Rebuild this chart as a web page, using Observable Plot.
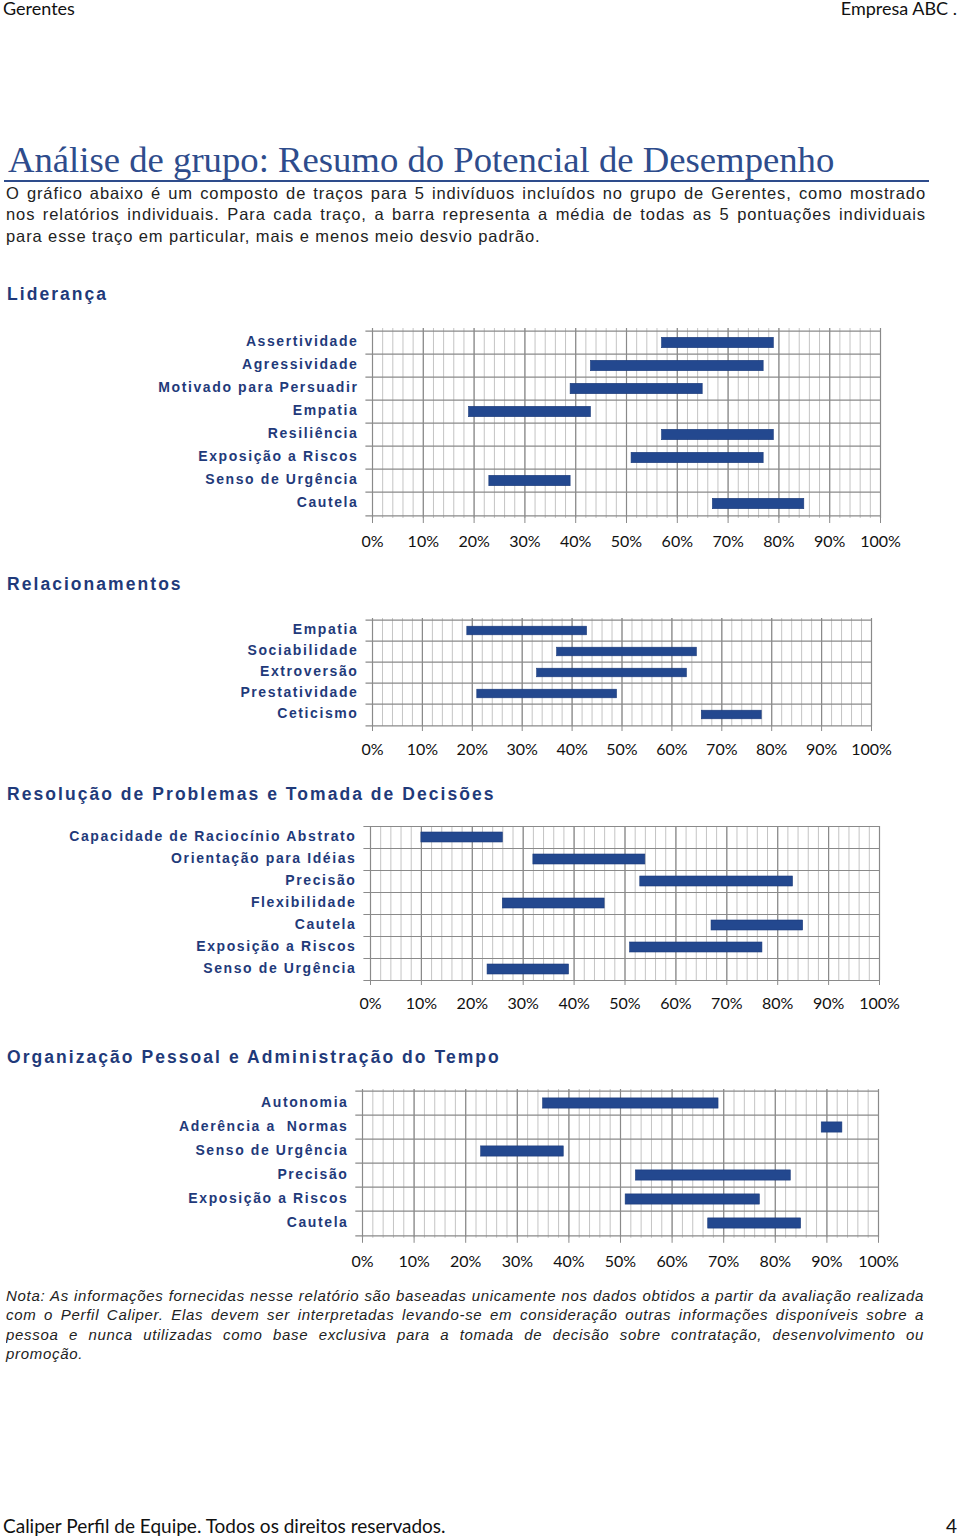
<!DOCTYPE html>
<html><head><meta charset="utf-8">
<script src="https://cdn.jsdelivr.net/npm/d3@7"></script>
<script src="https://cdn.jsdelivr.net/npm/@observablehq/plot@0.6"></script>
<style>
body{margin:0;width:960px;height:1536px;position:relative;background:#fff;overflow:hidden}
.abs{position:absolute;white-space:nowrap}
.hdr{font-family:Lato,sans-serif;font-size:18px;color:#111;line-height:20px}
.ftr{font-family:Lato,sans-serif;font-size:19px;color:#111;line-height:20px}
.title{font-family:"Liberation Serif",serif;font-size:36.7px;color:#2E4C8C;line-height:40px}
.para{font-family:"Liberation Sans Narrow","Liberation Sans",sans-serif;font-size:16.5px;color:#222;line-height:20px;letter-spacing:0.9px}
.just{white-space:normal;text-align:justify;text-align-last:justify;height:20px;overflow:hidden}
.sect{font-family:"Liberation Sans",Arial,sans-serif;font-weight:bold;font-size:17.5px;color:#1F3A7A;letter-spacing:2.05px;line-height:20px}
.note{font-family:"Liberation Sans Narrow","Liberation Sans",sans-serif;font-style:italic;font-size:15px;color:#222;line-height:20px;letter-spacing:0.7px}
.chart [aria-label="y-axis tick label"] text{letter-spacing:1.6px}
</style></head>
<body>
<script>
// ---------- data ----------
const ticks = [0,10,20,30,40,50,60,70,80,90,100];
const tickLabels = ["0%","10%","20%","30%","40%","50%","60%","70%","80%","90%","100%"];

const liderancaTraits = ["Assertividade","Agressividade","Motivado para Persuadir","Empatia","Resiliência","Exposição a Riscos","Senso de Urgência","Cautela"];
const liderancaLow  = [57,43,39,19,57,51,23,67];
const liderancaHigh = [79,77,65,43,79,77,39,85];

const relacTraits = ["Empatia","Sociabilidade","Extroversão","Prestatividade","Ceticismo"];
const relacLow  = [19,37,33,21,66];
const relacHigh = [43,65,63,49,78];

const resolTraits = ["Capacidade de Raciocínio Abstrato","Orientação para Idéias","Precisão","Flexibilidade","Cautela","Exposição a Riscos","Senso de Urgência"];
const resolLow  = [10,32,53,26,67,51,23];
const resolHigh = [26,54,83,46,85,77,39];

const orgTraits = ["Autonomia","Aderência a  Normas","Senso de Urgência","Precisão","Exposição a Riscos","Cautela"];
const orgLow  = [35,89,23,53,51,67];
const orgHigh = [69,93,39,83,77,85];

// ---------- layout helpers ----------
function addText(cls, txt, left, top, width){
  const d = document.createElement("div");
  d.className = "abs " + cls;
  d.textContent = txt;
  d.style.left = left + "px";
  d.style.top = top + "px";
  if (width) d.style.width = width + "px";
  document.body.appendChild(d);
  return d;
}

const minorGrid = d3.range(0, 101, 2);

function chart(cats, lo, hi, plotTop, left, right, rowH, inset, labelPad){
  const data = cats.map((c,i)=>({trait:c, lo:lo[i], hi:hi[i]}));
  const mt = 6, mb = 40;
  const n = cats.length;
  const svg = Plot.plot({
    width: 960,
    height: mt + n*rowH + mb,
    marginTop: mt, marginBottom: mb, marginLeft: left, marginRight: 960 - right,
    x: {domain: [0,100]},
    y: {domain: cats, padding: 0},
    style: {background: "transparent"},
    marks: [
      Plot.ruleX(minorGrid, {stroke: "#c4c4c4", strokeWidth: 1}),
      Plot.ruleX(ticks, {stroke: "#8a8a8a", strokeWidth: 1.2}),
      Plot.ruleY(cats, {y: d=>d, dy: -rowH/2, x1: -1.3, x2: 100, stroke: "#8a8a8a", strokeWidth: 1.2}),
      Plot.ruleY([cats[n-1]], {y: d=>d, dy: rowH/2, x1: -1.3, x2: 100, stroke: "#8a8a8a", strokeWidth: 1.2}),
      Plot.barX(data, {x1: "lo", x2: "hi", y: "trait", fill: "#23488F", stroke: "#1b3b7a", strokeWidth: 0.6, insetTop: inset, insetBottom: inset}),
      Plot.axisX(ticks, {tickSize: 5, tickPadding: 12, stroke: "#8a8a8a", tickFormat: (d)=>tickLabels[ticks.indexOf(d)], fontSize: 16, fontFamily: "Lato, sans-serif", fill: "#111", label: null}),
      Plot.axisY({tickSize: 0, tickPadding: labelPad, fontSize: 14, fontWeight: "bold", fontFamily: "'Liberation Sans', Arial, sans-serif", fill: "#1F3A7A", label: null, dy: -1})
    ]
  });
  const wrap = document.createElement("div");
  wrap.className = "abs chart";
  wrap.style.left = "0px";
  wrap.style.top = (plotTop - mt) + "px";
  wrap.appendChild(svg);
  document.body.appendChild(wrap);
}

// ---------- page ----------
addText("hdr", "Gerentes", 3, -2);
const e = addText("hdr", "Empresa ABC .", 0, -2, 957); e.style.textAlign = "right";

addText("title", "Análise de grupo: Resumo do Potencial de Desempenho", 8, 140);
const rule = document.createElement("div");
rule.className = "abs";
Object.assign(rule.style, {left:"4px", top:"180px", width:"925px", height:"2px", background:"#2E4C8C"});
document.body.appendChild(rule);

addText("para just", "O gráfico abaixo é um composto de traços para 5 indivíduos incluídos no grupo de Gerentes, como mostrado", 6, 183, 920);
addText("para just", "nos relatórios individuais. Para cada traço, a barra representa a média de todas as 5 pontuações individuais", 6, 204, 920);
addText("para", "para esse traço em particular, mais e menos meio desvio padrão.", 6, 226);

addText("sect", "Liderança", 7, 284);
chart(liderancaTraits, liderancaLow, liderancaHigh, 328, 372, 880, 23.75, 6.3, 14);

addText("sect", "Relacionamentos", 7, 574);
chart(relacTraits, relacLow, relacHigh, 618, 372, 871, 21.6, 6.2, 14);

addText("sect", "Resolução de Problemas e Tomada de Decisões", 7, 784);
chart(resolTraits, resolLow, resolHigh, 826, 370, 879, 22, 6, 14);

addText("sect", "Organização Pessoal e Administração do Tempo", 7, 1047);
chart(orgTraits, orgLow, orgHigh, 1089, 362, 878, 24.8, 6.9, 14);

addText("note just", "Nota: As informações fornecidas nesse relatório são baseadas unicamente nos dados obtidos a partir da avaliação realizada", 6, 1286, 918);
addText("note just", "com o Perfil Caliper. Elas devem ser interpretadas levando-se em consideração outras informações disponíveis sobre a", 6, 1305, 918);
addText("note just", "pessoa e nunca utilizadas como base exclusiva para a tomada de decisão sobre contratação, desenvolvimento ou", 6, 1325, 918);
addText("note", "promoção.", 6, 1344);

addText("ftr", "Caliper Perfil de Equipe. Todos os direitos reservados.", 3, 1516);
const pg = addText("ftr", "4", 0, 1516, 957); pg.style.textAlign = "right";
</script>
</body></html>
